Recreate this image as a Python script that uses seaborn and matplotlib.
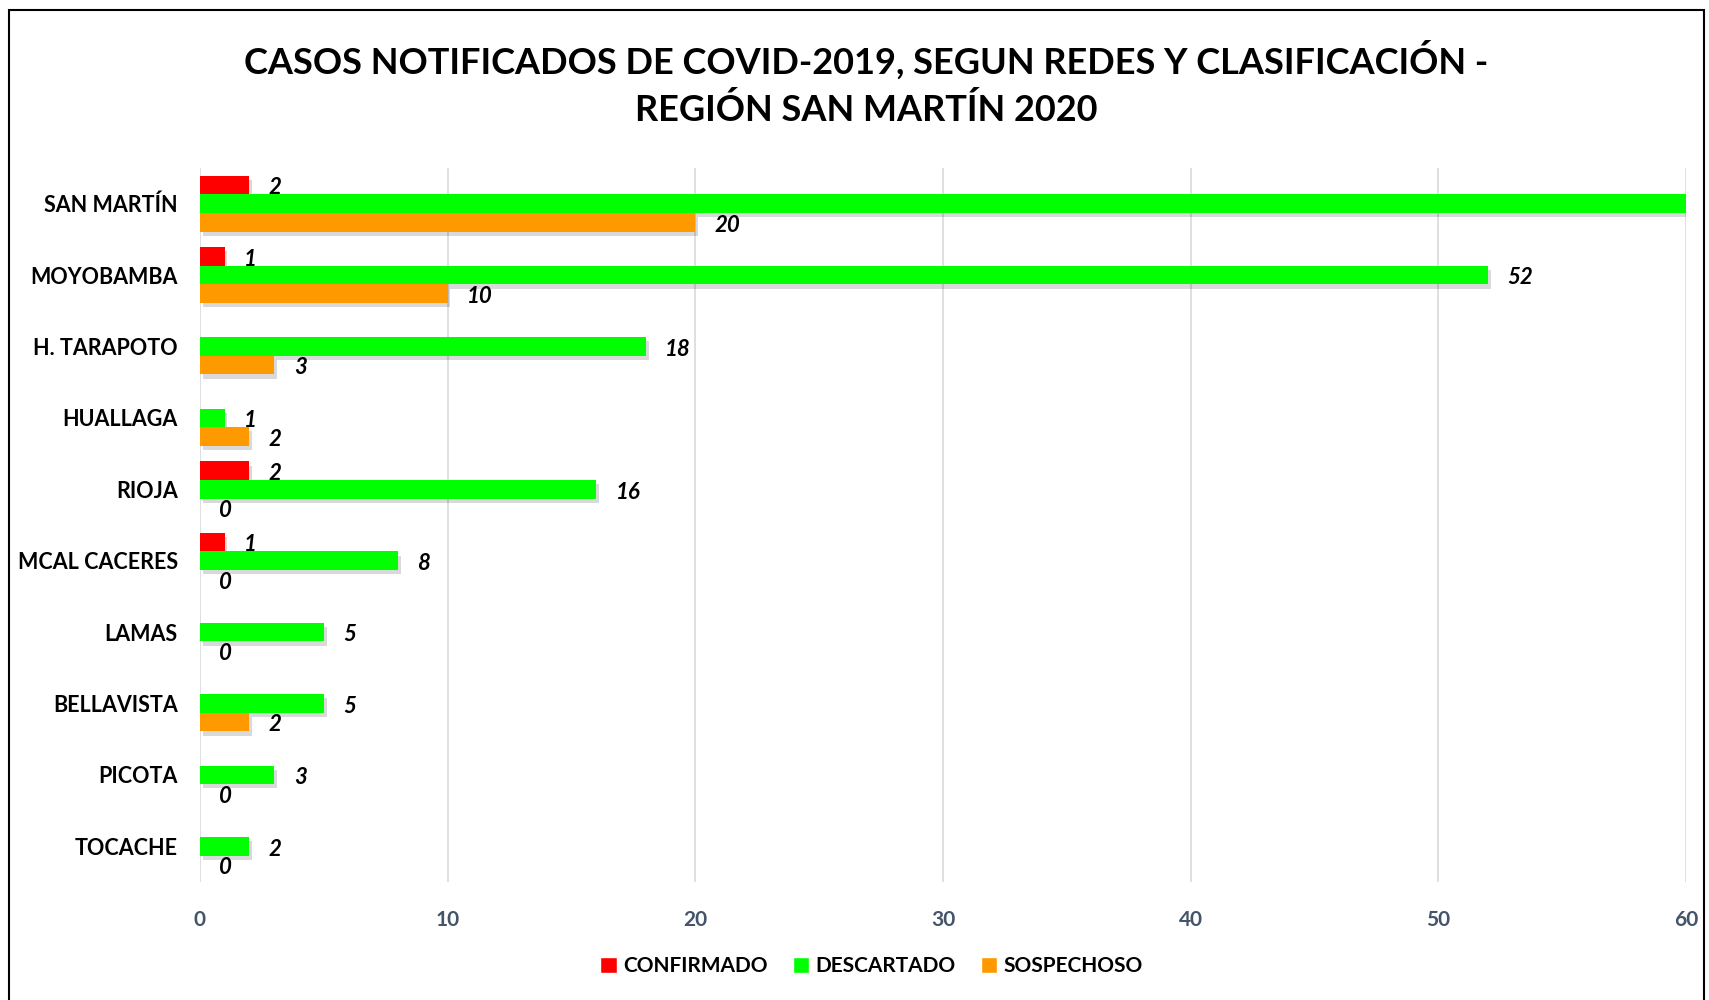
import numpy as np
import pandas as pd
import matplotlib
matplotlib.use("Agg")
import matplotlib.pyplot as plt
import matplotlib.patheffects as pe
from matplotlib.patches import Rectangle
import seaborn as sns

# data
redes = ['SAN MARTÍN', 'MOYOBAMBA', 'H. TARAPOTO', 'HUALLAGA', 'RIOJA',
         'MCAL CACERES', 'LAMAS', 'BELLAVISTA', 'PICOTA', 'TOCACHE']
confirmado = [2, 1, None, None, 2, 1, None, None, None, None]
descartado = [60, 52, 18, 1, 16, 8, 5, 5, 3, 2]
sospechoso = [20, 10, 3, 2, 0, 0, 0, 2, 0, 0]
clases = ['CONFIRMADO', 'DESCARTADO', 'SOSPECHOSO']
colores = ['#FF0000', '#00FF00', '#FF9900']
x_ticks = [0, 10, 20, 30, 40, 50, 60]

rows = []
for serie, vals in zip(clases, [confirmado, descartado, sospechoso]):
    for red, v in zip(redes, vals):
        rows.append({'red': red, 'clase': serie, 'casos': v})
df = pd.DataFrame(rows)

sns.set_theme(style='white')
plt.rcParams['font.family'] = ['Lato', 'DejaVu Sans']
plt.rcParams['text.color'] = 'black'

fig = plt.figure(figsize=(17.09, 10), dpi=100)
ax = fig.add_axes([0.117, 0.118, 0.8695, 0.714])

sns.barplot(data=df.fillna(0), y='red', x='casos', hue='clase', order=redes,
            hue_order=clases, palette=colores, orient='h', width=0.78,
            saturation=1, ax=ax, legend=True, errorbar=None)

shadow = [pe.SimplePatchShadow(offset=(2, -3), shadow_rgbFace='#000000', alpha=0.15),
          pe.Normal()]
xmax = x_ticks[-1]
for cont, serie, vals in zip(ax.containers, clases, [confirmado, descartado, sospechoso]):
    for bar, v in zip(cont, vals):
        bar.set_linewidth(0)
        bar.set_path_effects(shadow)
        # blank cells and bars running past the axis get no label (as in the reference)
        if v is None or v >= xmax:
            continue
        ax.annotate(f'{v}', (v, bar.get_y() + bar.get_height() / 2),
                    xytext=(14, -2), textcoords='offset points',
                    ha='left', va='center', fontsize=16, fontweight='bold',
                    fontstyle='italic', color='black')

ax.set_xlim(0, xmax)
ax.set_ylim(9.5, -0.5)
ax.set_xticks(x_ticks)
ax.set_xticklabels([str(t) for t in x_ticks], fontweight='bold')
ax.set_yticks(range(len(redes)))
ax.set_yticklabels(redes, fontweight='bold')
ax.xaxis.grid(True, color='#D9D9D9', linewidth=1.2)
ax.set_axisbelow(True)
for s in ax.spines.values():
    s.set_visible(False)
ax.set_xlabel('')
ax.set_ylabel('')
ax.tick_params(axis='x', length=0, pad=20, labelsize=15, labelcolor='#44546A')
ax.tick_params(axis='y', length=0, pad=16, labelsize=15.5, labelcolor='black')

handles, labels = ax.get_legend_handles_labels()
ax.legend_.remove()
fig.legend(handles, labels, loc='center', bbox_to_anchor=(0.51, 0.034), ncol=3,
           frameon=False, handlelength=0.8, handleheight=0.8, handletextpad=0.3,
           columnspacing=1.2, prop={'weight': 'bold', 'size': 15})

fig.text(0.507, 0.94, 'CASOS NOTIFICADOS DE COVID-2019, SEGUN REDES Y CLASIFICACIÓN -',
         ha='center', va='center', fontsize=26, fontweight='bold', color='black')
fig.text(0.507, 0.89, 'REGIÓN SAN MARTÍN 2020',
         ha='center', va='center', fontsize=26, fontweight='bold', color='black')

fig.patches.append(Rectangle((0.005, -0.01), 0.992, 1.0, transform=fig.transFigure,
                             fill=False, edgecolor='black', linewidth=1.5))

fig.savefig('out.png', dpi=100)
